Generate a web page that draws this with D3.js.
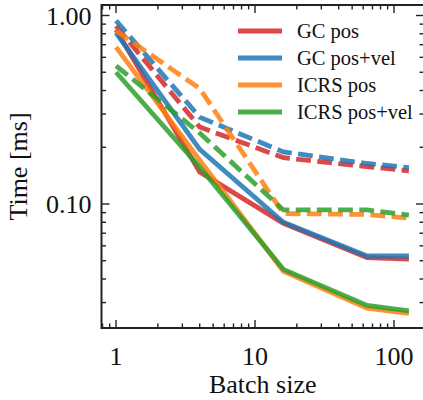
<!DOCTYPE html>
<html lang="en">
<head>
  <meta charset="UTF-8">
  <title>Batch size timing</title>
  <script src="https://cdn.jsdelivr.net/npm/d3@7.8.5/dist/d3.min.js"></script>
  <style>
    html, body { margin: 0; padding: 0; background: #fff; }
    svg { display: block; font-family: 'Liberation Serif', 'DejaVu Serif', serif; }
  </style>
</head>
<body>
  <svg id="chart"></svg>
  <script>
    // batch sizes and timings (ms)
    const batchSizes = [1, 4, 16, 64, 128];
    const seriesNames = ["GC pos", "GC pos+vel", "ICRS pos", "ICRS pos+vel"];
    const seriesColors = ["#d62728", "#1f77b4", "#ff7f0e", "#2ca02c"];
    // solid lines
    const solidGcPos     = [0.84, 0.148, 0.079, 0.052, 0.051];
    const solidGcPosVel  = [0.81, 0.195, 0.080, 0.053, 0.053];
    const solidIcrsPos   = [0.68, 0.171, 0.044, 0.028, 0.0263];
    const solidIcrsPosVel= [0.50, 0.157, 0.045, 0.029, 0.0271];
    // dashed lines
    const dashGcPos      = [0.88, 0.256, 0.176, 0.158, 0.150];
    const dashGcPosVel   = [0.94, 0.289, 0.189, 0.164, 0.156];
    const dashIcrsPos    = [0.83, 0.410, 0.089, 0.088, 0.0842];
    const dashIcrsPosVel = [0.54, 0.238, 0.093, 0.093, 0.0874];
    const xTicks = [1, 10, 100];
    const yTicks = [0.1, 1];

    const width = 423, height = 400;
    const m = { left: 101.5, right: 424, top: 5, bottom: 328 };

    const svg = d3.select("#chart").attr("width", width).attr("height", height);

    const x = d3.scaleLog().domain([0.786, 164.4]).range([m.left, m.right]);
    const y = d3.scaleLog().domain([0.02199, 1.137]).range([m.bottom, m.top]);

    const solids = [solidGcPos, solidGcPosVel, solidIcrsPos, solidIcrsPosVel];
    const dashes = [dashGcPos, dashGcPosVel, dashIcrsPos, dashIcrsPosVel];

    const line = d3.line().x((d, i) => x(batchSizes[i])).y(d => y(d));

    svg.append("defs").append("clipPath").attr("id", "clip")
      .append("rect").attr("x", m.left).attr("y", m.top)
      .attr("width", m.right - m.left).attr("height", m.bottom - m.top);

    const plot = svg.append("g").attr("clip-path", "url(#clip)");

    solids.forEach((vals, k) => {
      plot.append("path")
        .attr("d", line(vals))
        .attr("fill", "none")
        .attr("stroke", seriesColors[k])
        .attr("stroke-width", 4.8)
        .attr("stroke-opacity", 0.85);
    });
    dashes.forEach((vals, k) => {
      plot.append("path")
        .attr("d", line(vals))
        .attr("fill", "none")
        .attr("stroke", seriesColors[k])
        .attr("stroke-width", 4.8)
        .attr("stroke-opacity", 0.85)
        .attr("stroke-dasharray", "14.8,6.4");
    });

    // ticks (inward, all four sides)
    const majorLen = 8, minorLen = 4.5;
    const xMinor = [];
    [0.1, 1, 10, 100].forEach(dec => { for (let k = 2; k <= 9; k++) xMinor.push(dec * k); });
    const xMinorIn = xMinor.filter(v => v > x.domain()[0] && v < x.domain()[1]);
    const yMinor = [];
    [0.01, 0.1, 1].forEach(dec => { for (let k = 2; k <= 9; k++) yMinor.push(dec * k); });
    const yMinorIn = yMinor.filter(v => v > y.domain()[0] && v < y.domain()[1]);

    const tk = svg.append("g").attr("stroke", "#222").attr("stroke-width", 1.4);
    const addX = (vals, len) => vals.forEach(v => {
      tk.append("line").attr("x1", x(v)).attr("x2", x(v)).attr("y1", m.bottom).attr("y2", m.bottom - len);
      tk.append("line").attr("x1", x(v)).attr("x2", x(v)).attr("y1", m.top).attr("y2", m.top + len);
    });
    const addY = (vals, len) => vals.forEach(v => {
      tk.append("line").attr("y1", y(v)).attr("y2", y(v)).attr("x1", m.left).attr("x2", m.left + len);
      tk.append("line").attr("y1", y(v)).attr("y2", y(v)).attr("x1", m.right).attr("x2", m.right - len);
    });
    addX(xTicks, majorLen); addX(xMinorIn, minorLen);
    addY(yTicks, majorLen); addY(yMinorIn, minorLen);

    svg.append("rect")
      .attr("x", m.left).attr("y", m.top)
      .attr("width", m.right - m.left).attr("height", m.bottom - m.top)
      .attr("fill", "none").attr("stroke", "#222").attr("stroke-width", 2);

    // tick labels
    svg.append("g").selectAll("text").data(xTicks).enter().append("text")
      .attr("x", d => x(d)).attr("y", 365)
      .attr("text-anchor", "middle").attr("font-size", 26).attr("fill", "#111")
      .text(d => d);
    svg.append("g").selectAll("text").data(yTicks).enter().append("text")
      .attr("x", m.left - 10).attr("y", d => y(d)).attr("dy", "0.35em")
      .attr("text-anchor", "end").attr("font-size", 26).attr("fill", "#111")
      .text(d => d.toFixed(2));

    // axis labels
    svg.append("text")
      .attr("x", (m.left + m.right) / 2).attr("y", 393)
      .attr("text-anchor", "middle").attr("font-size", 26).attr("fill", "#111")
      .text("Batch size");
    svg.append("text")
      .attr("transform", `translate(27,${(m.top + m.bottom) / 2}) rotate(-90)`)
      .attr("text-anchor", "middle").attr("font-size", 26).attr("fill", "#111")
      .text("Time [ms]");

    // legend
    const legend = svg.append("g");
    seriesNames.forEach((name, k) => {
      const ly = 31 + k * 27;
      legend.append("line")
        .attr("x1", 238).attr("x2", 282).attr("y1", ly).attr("y2", ly)
        .attr("stroke", seriesColors[k]).attr("stroke-width", 4.8).attr("stroke-opacity", 0.85);
      legend.append("text")
        .attr("x", 297).attr("y", ly).attr("dy", "0.35em")
        .attr("font-size", 20.5).attr("fill", "#111")
        .text(name);
    });
  </script>
</body>
</html>
